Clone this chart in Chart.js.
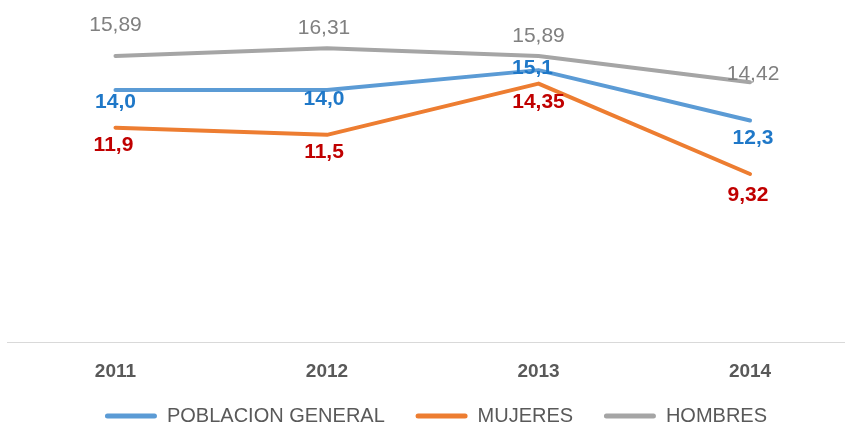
<!DOCTYPE html>
<html>
<head>
<meta charset="utf-8">
<script src="https://cdn.jsdelivr.net/npm/chart.js@4"></script>
<style>
  html, body { margin: 0; padding: 0; background: #fff; }
  #wrap { width: 845px; height: 428px; }
</style>
</head>
<body>
<div id="wrap"><canvas id="myChart"></canvas></div>
<script>
const years = [2011, 2012, 2013, 2014];
const poblacionGeneral = [14.0, 14.0, 15.1, 12.3];
const mujeres = [11.9, 11.5, 14.35, 9.32];
const hombres = [15.89, 16.31, 15.89, 14.42];

const FONT = "'Liberation Sans', Arial, sans-serif";

const toPoints = (vals) => vals.map((v, i) => ({ x: years[i], y: v }));

// draws the value labels next to each point
const valueLabels = {
  id: "valueLabels",
  afterDatasetsDraw(chart) {
    const ctx = chart.ctx;
    chart.data.datasets.forEach((ds, di) => {
      const lab = ds.valueLabel;
      if (!lab) return;
      const meta = chart.getDatasetMeta(di);
      ctx.save();
      ctx.font = (lab.bold ? "bold " : "") + "21px " + FONT;
      ctx.fillStyle = lab.color;
      ctx.textAlign = "center";
      ctx.textBaseline = "middle";
      meta.data.forEach((pt, i) => {
        const v = ds.data[i].y;
        const txt = (lab.decimals != null ? v.toFixed(lab.decimals) : String(v)).replace(".", ",");
        ctx.fillText(txt, pt.x + lab.dx[i], pt.y + lab.dy[i]);
      });
      ctx.restore();
    });
  },
};

// baseline rule, running a bit left of the plot area like the original
const baseRule = {
  id: "baseRule",
  beforeDatasetsDraw(chart) {
    const { ctx, chartArea } = chart;
    const y = Math.round(chartArea.bottom) + 0.5;
    ctx.save();
    ctx.strokeStyle = "#d9d9d9";
    ctx.lineWidth = 1;
    ctx.beginPath();
    ctx.moveTo(7, y);
    ctx.lineTo(chart.width, y);
    ctx.stroke();
    ctx.restore();
  },
};

const ctx = document.getElementById("myChart");
new Chart(ctx, {
  type: "line",
  data: {
    datasets: [
      {
        label: "POBLACION GENERAL",
        data: toPoints(poblacionGeneral),
        borderColor: "#5b9bd5",
        backgroundColor: "#5b9bd5",
        valueLabel: { color: "#1f78c8", bold: true, decimals: 1, dy: [12, 9, -2, 18], dx: [0, -3, -6, 3] },
      },
      {
        label: "MUJERES",
        data: toPoints(mujeres),
        borderColor: "#ed7d31",
        backgroundColor: "#ed7d31",
        valueLabel: { color: "#c00000", bold: true, dy: [18, 17, 19, 21], dx: [-2, -3, 0, -2] },
      },
      {
        label: "HOMBRES",
        data: toPoints(hombres),
        borderColor: "#a5a5a5",
        backgroundColor: "#a5a5a5",
        valueLabel: { color: "#808080", bold: false, dy: [-31, -20, -20, -8], dx: [0, -3, 0, 3] },
      },
    ],
  },
  plugins: [baseRule, valueLabels],
  options: {
    responsive: true,
    maintainAspectRatio: false,
    animation: false,
    layout: {
      padding: { top: 18, left: 27, right: 0, bottom: -8 },
    },
    elements: {
      line: { borderWidth: 4, tension: 0, borderCapStyle: "round", borderJoinStyle: "round" },
      point: { radius: 0, hoverRadius: 0 },
    },
    plugins: {
      tooltip: { enabled: false },
      legend: {
        position: "bottom",
        labels: {
          boxWidth: 52,
          boxHeight: 5,
          useBorderRadius: true,
          borderRadius: 2.5,
          padding: 3,
          color: "#595959",
          font: { family: FONT, size: 20 },
          generateLabels: (chart) => {
            const items = Chart.defaults.plugins.legend.labels.generateLabels(chart);
            items.forEach((it, i) => {
              it.lineWidth = 0;
              if (i < items.length - 1) it.text = it.text + "     ";
            });
            return items;
          },
        },
      },
    },
    scales: {
      x: {
        type: "linear",
        min: 2010.5817,
        max: 2014.449,
        afterFit: (scale) => { scale.height = 61.5; },
        grid: { display: false, drawTicks: false },
        border: { display: false },
        ticks: {
          stepSize: 1,
          includeBounds: false,
          padding: 19,
          color: "#595959",
          font: { family: FONT, size: 19, weight: "bold" },
          callback: (v) => String(v),
        },
      },
      y: {
        display: false,
        min: 0,
        max: 18,
      },
    },
  },
});
</script>
</body>
</html>
